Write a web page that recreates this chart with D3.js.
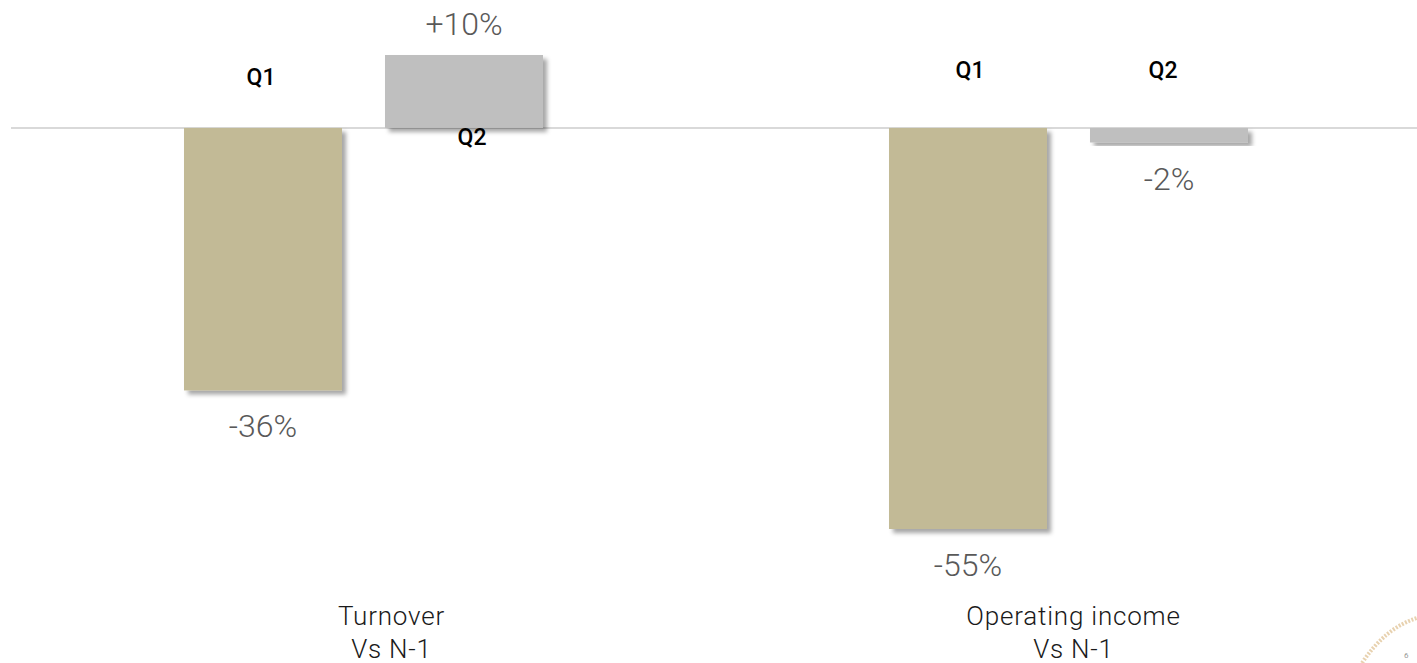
<!DOCTYPE html>
<html>
<head>
<meta charset="utf-8">
<script src="https://cdn.jsdelivr.net/npm/d3@7"></script>
<style>
  html, body { margin: 0; padding: 0; background: #ffffff; overflow: hidden; }
  svg { display: block; }
</style>
</head>
<body>
<svg id="chart" width="1417" height="663"></svg>
<script>
// ---- data ----
const categories = ["Turnover", "Operating income"];
const categorySubtitles = ["Vs N-1", "Vs N-1"];
const seriesNames = ["Q1", "Q2"];
const q1Values = [-36, -55];
const q2Values = [10, -2];
const seriesColors = ["#c2ba96", "#bfbfbf"];

// ---- layout ----
const W = 1417, H = 663;
const svg = d3.select("#chart");

const rows = categories.map((c, i) => ({
  category: c,
  subtitle: categorySubtitles[i],
  values: [
    { series: seriesNames[0], value: q1Values[i] },
    { series: seriesNames[1], value: q2Values[i] }
  ]
}));

const allVals = q1Values.concat(q2Values);
const y = d3.scaleLinear()
  .domain([d3.min(allVals), d3.max(allVals)])
  .range([529, 55]);

const x0 = d3.scaleBand().domain(categories).range([11, 1421]).padding(0);
const x1 = d3.scaleBand().domain(seriesNames).range([-201, 201])
  .paddingInner(0.214).paddingOuter(0.107);
const color = d3.scaleOrdinal().domain(seriesNames).range(seriesColors);

const defs = svg.append("defs");
const f = defs.append("filter").attr("id", "shadow")
  .attr("x", "-10%").attr("y", "-10%").attr("width", "130%").attr("height", "130%");
f.append("feDropShadow").attr("dx", 4).attr("dy", 4).attr("stdDeviation", 2.2)
  .attr("flood-color", "#000").attr("flood-opacity", 0.35);

// zero line
svg.append("line")
  .attr("x1", 11).attr("x2", W)
  .attr("y1", y(0)).attr("y2", y(0))
  .attr("stroke", "#d9d9d9").attr("stroke-width", 2);

const fmt = v => (v > 0 ? "+" : "") + v + "%";

const groups = svg.selectAll("g.group").data(rows).enter().append("g")
  .attr("class", "group")
  .attr("transform", d => `translate(${x0(d.category) + x0.bandwidth() / 2},0)`);

groups.selectAll("rect").data(d => d.values).enter().append("rect")
  .attr("x", d => x1(d.series))
  .attr("width", x1.bandwidth())
  .attr("y", d => Math.min(y(d.value), y(0)))
  .attr("height", d => Math.abs(y(d.value) - y(0)))
  .attr("fill", d => color(d.series))
  .attr("filter", "url(#shadow)");

// value labels
groups.selectAll("text.val").data(d => d.values).enter().append("text")
  .attr("class", "val")
  .attr("x", d => x1(d.series) + x1.bandwidth() / 2)
  .attr("y", d => d.value >= 0 ? y(d.value) - 20 : y(d.value) + 47)
  .attr("text-anchor", "middle")
  .attr("font-family", "Roboto, 'Noto Sans', sans-serif")
  .attr("font-weight", 300)
  .attr("font-size", 32)
  .attr("fill", "#595959")
  .text(d => fmt(d.value));

// series labels (Q1 / Q2)
const negLabelOffset = { "Turnover": 43, "Operating income": 50 };
const serDx = { "Turnover": [-2, 8], "Operating income": [2, -6] };
groups.each(function(g) {
  d3.select(this).selectAll("text.ser").data(g.values).enter().append("text")
    .attr("class", "ser")
    .attr("x", (d, i) => x1(d.series) + x1.bandwidth() / 2 + serDx[g.category][i])
    .attr("y", d => d.value >= 0 ? y(0) + 17 : y(0) - negLabelOffset[g.category])
    .attr("text-anchor", "middle")
    .attr("font-family", "Roboto, 'Noto Sans', sans-serif")
    .attr("font-weight", 500)
    .attr("font-size", 23)
    .attr("fill", "#000")
    .text(d => d.series);
});

// category labels
const catDx = { "Turnover": 28, "Operating income": 5 };
const cat = groups.append("text")
  .attr("text-anchor", "middle")
  .attr("font-family", "Roboto, 'Noto Sans', sans-serif")
  .attr("font-weight", 300)
  .attr("font-size", 26)
  .attr("letter-spacing", 0.8)
  .attr("fill", "#1a1a1a");
cat.append("tspan").attr("x", d => catDx[d.category]).attr("y", 625).text(d => d.category);
cat.append("tspan").attr("x", d => catDx[d.category]).attr("y", 658).text(d => d.subtitle);

// decorative corner arc
const arc = d3.path();
arc.moveTo(1362, 663);
arc.quadraticCurveTo(1385, 628, 1417, 618);
svg.append("path").attr("d", arc.toString())
  .attr("fill", "none").attr("stroke", "#e8d2b0")
  .attr("stroke-width", 4).attr("stroke-dasharray", "2 1.5");
svg.append("text").attr("x", 1404).attr("y", 658)
  .attr("font-family", "Roboto, sans-serif").attr("font-size", 8)
  .attr("fill", "#999").text("6");
</script>
</body>
</html>
